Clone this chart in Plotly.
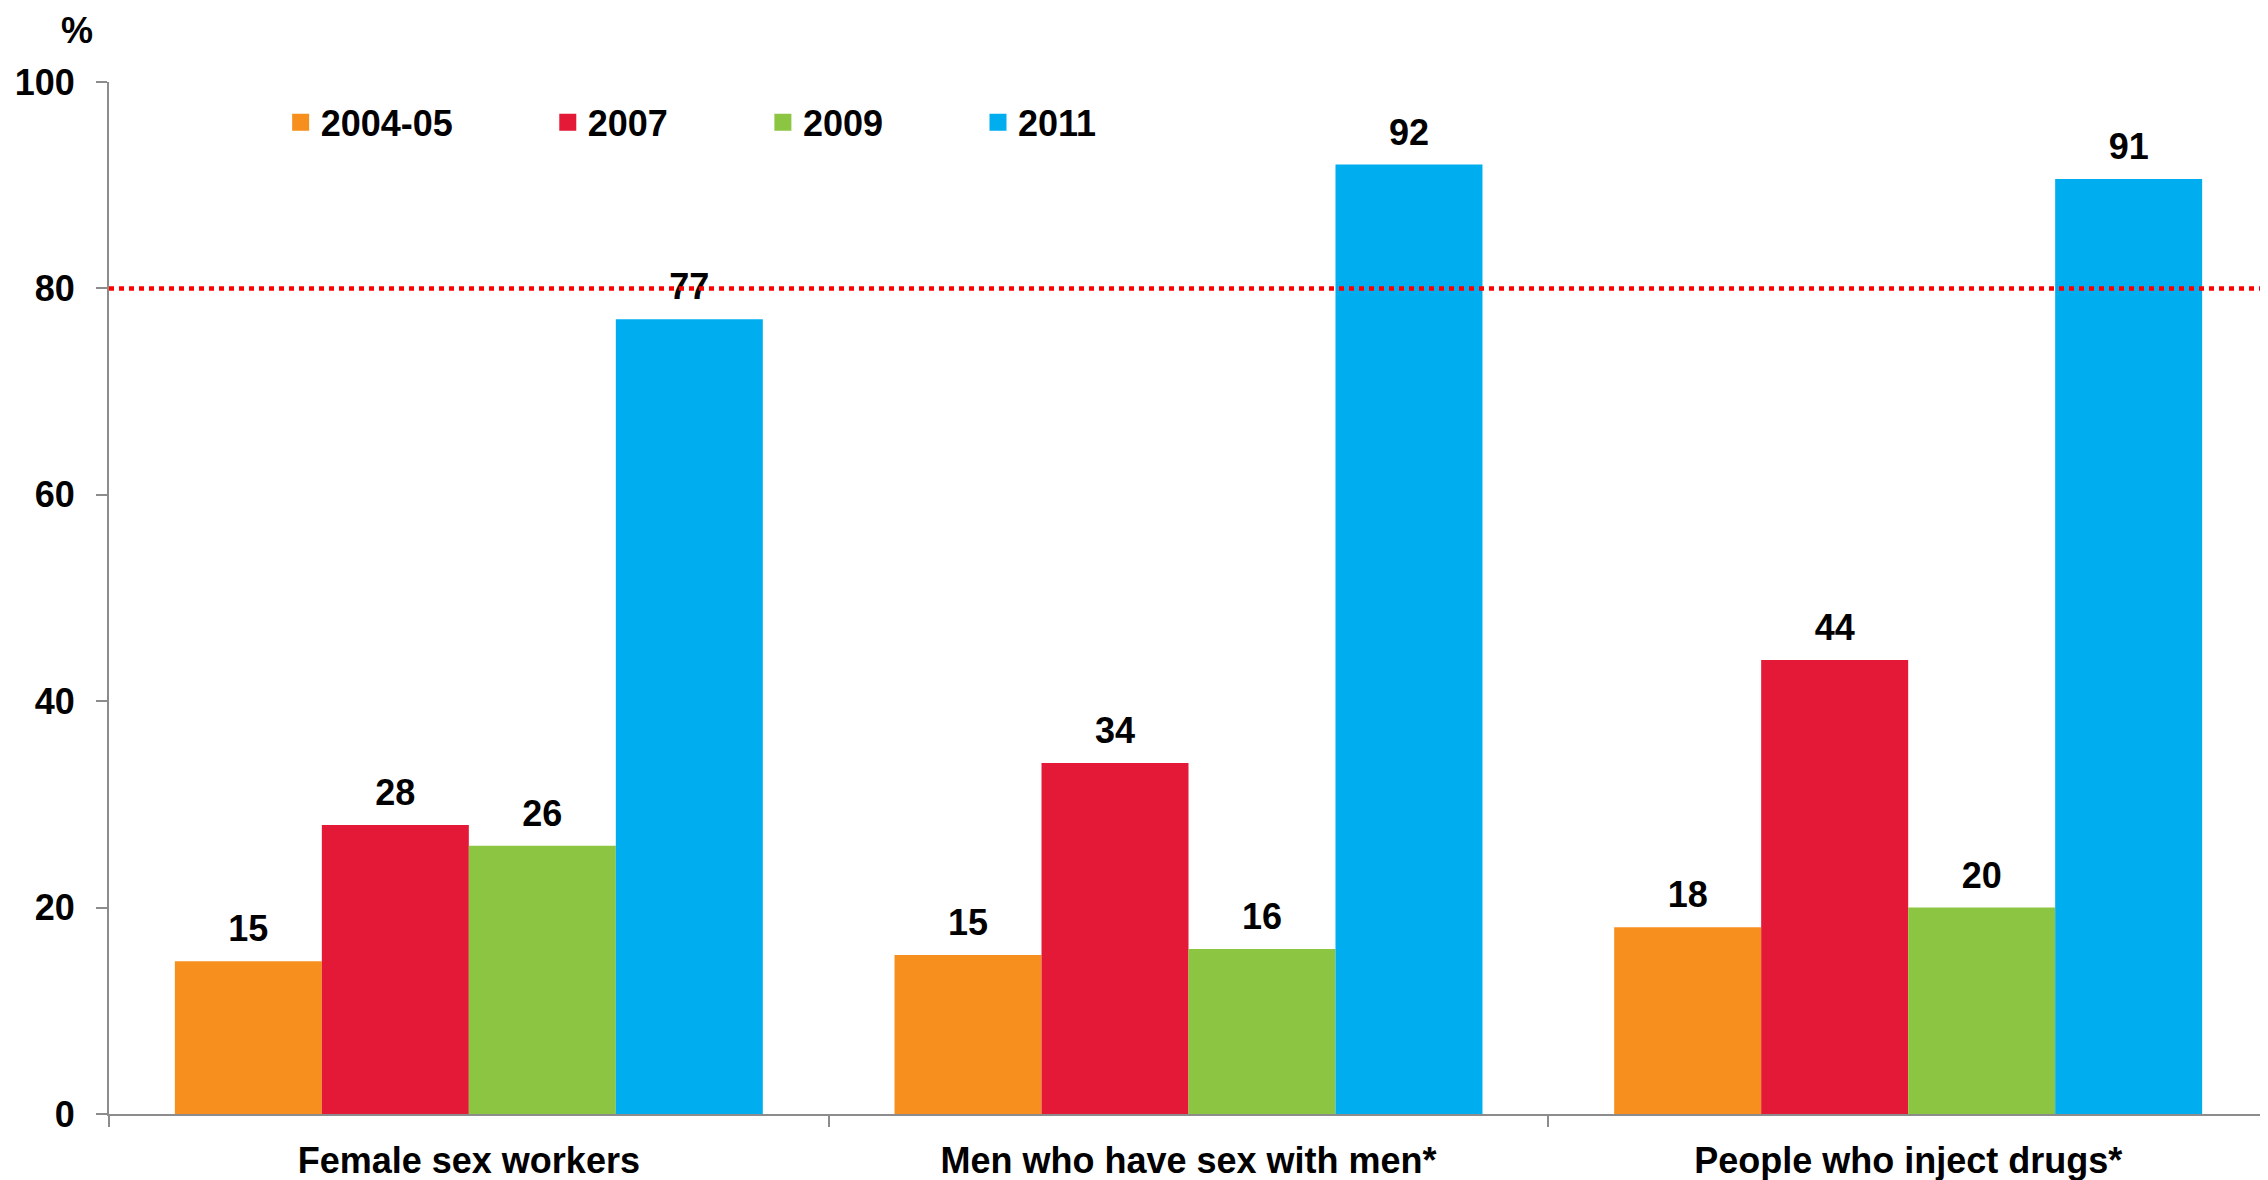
import plotly.graph_objects as go

categories = ["Female sex workers", "Men who have sex with men*", "People who inject drugs*"]
series_names = ["2004-05", "2007", "2009", "2011"]
values_2004_05 = [14.8, 15.4, 18.1]
values_2007 = [28, 34, 44]
values_2009 = [26, 16, 20]
values_2011 = [77, 92, 90.6]
target_line = 80
y_ticks = [0, 20, 40, 60, 80, 100]

series_values = [values_2004_05, values_2007, values_2009, values_2011]
colors = ["#F78F1E", "#E31937", "#8BC541", "#00AEEF"]

FONT = "Liberation Sans, Arial, sans-serif"
NBSP = "\u00a0"

fig = go.Figure()

# bars (no legend)
for name, vals, col in zip(series_names, series_values, colors):
    fig.add_trace(go.Bar(
        x=categories, y=vals, name=name, marker=dict(color=col, line=dict(width=0)),
        showlegend=False, hoverinfo="x+y",
    ))

# value labels, grouped like the bars
for name, vals, col in zip(series_names, series_values, colors):
    fig.add_trace(go.Scatter(
        x=categories, y=vals, mode="markers+text",
        text=[f"{v:.0f}" for v in vals], textposition="top center",
        textfont=dict(family=FONT, size=36, color="black", weight="bold"),
        marker=dict(size=16, opacity=0, color=col),
        showlegend=False, hoverinfo="skip", cliponaxis=False,
    ))

# legend entries
for name, col in zip(series_names, colors):
    fig.add_trace(go.Bar(
        x=[None], y=[None], name=name + NBSP * 9,
        marker=dict(color=col, line=dict(color=col, width=5)),
        xaxis="x2", yaxis="y2", showlegend=True,
    ))

fig.add_shape(
    type="line", xref="paper", yref="y", x0=0, x1=1, y0=target_line, y1=target_line,
    line=dict(color="#FF0000", width=4.5, dash="5px,5px"), layer="above",
)

fig.add_annotation(
    text="%", xref="paper", yref="paper", x=-0.0148, y=1.050,
    showarrow=False, xanchor="center", yanchor="middle",
    font=dict(family=FONT, size=36, color="black", weight="bold"),
)

axis_grey = "#8C8C8C"
# the page body adds an 8px margin, so the figure is 8px smaller than the window
fig.update_layout(
    width=2260, height=1172,
    margin=dict(l=101, r=0, t=74, b=66, pad=0, autoexpand=False),
    paper_bgcolor="white", plot_bgcolor="white",
    barmode="group", bargap=0.183, bargroupgap=0,
    scattermode="group", scattergap=0.183,
    font=dict(family=FONT, size=36, color="black", weight="bold"),
    legend=dict(
        orientation="h", x=0.0795, y=0.961, xanchor="left", yanchor="middle",
        font=dict(family=FONT, size=36, color="black", weight="bold"),
        bgcolor="rgba(0,0,0,0)", itemclick=False, itemdoubleclick=False,
    ),
    xaxis=dict(
        type="category", showline=True, linecolor=axis_grey, linewidth=2,
        ticks="outside", tickson="boundaries", ticklen=11, tickwidth=2, tickcolor=axis_grey,
        showgrid=False, zeroline=False, ticklabelstandoff=14, automargin=False,
        tickfont=dict(family=FONT, size=36, color="black", weight="bold"),
    ),
    yaxis=dict(
        range=[0, 100], tickvals=y_ticks, showline=True, linecolor=axis_grey, linewidth=2,
        ticks="outside", ticklen=11, tickwidth=2, tickcolor=axis_grey,
        showgrid=False, zeroline=False, ticklabelstandoff=14, automargin=False,
        tickfont=dict(family=FONT, size=36, color="black", weight="bold"),
    ),
    xaxis2=dict(overlaying="x", visible=False),
    yaxis2=dict(overlaying="y", visible=False),
)

fig.write_html("out.html")
